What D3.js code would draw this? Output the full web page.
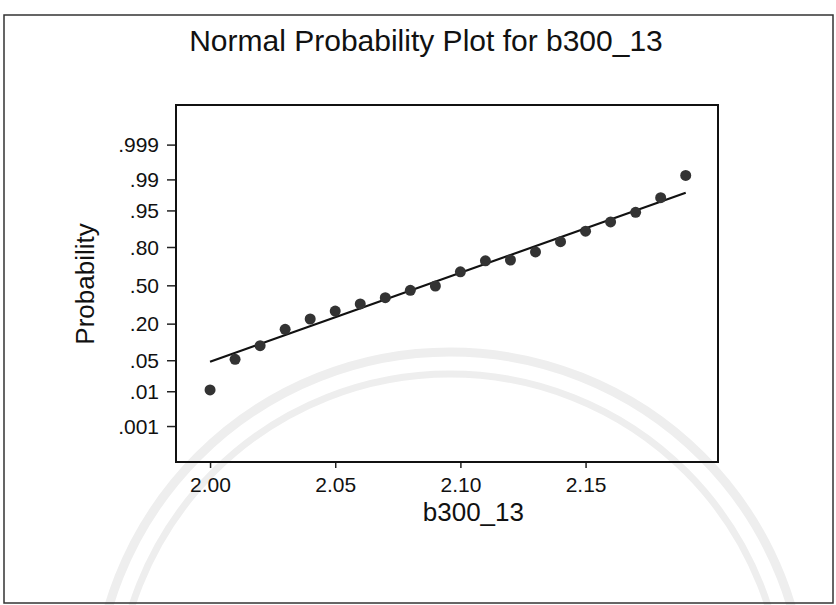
<!DOCTYPE html>
<html>
<head>
<meta charset="utf-8">
<script src="https://cdn.jsdelivr.net/npm/d3@7"></script>
<style>
  html, body { margin: 0; padding: 0; background: #fff; }
  svg { display: block; font-family: "Liberation Sans", Arial, sans-serif; }
</style>
</head>
<body>
<svg id="chart" width="836" height="605"></svg>
<script>
// b300_13 observations and their plotted probability positions
const xValues = [2.00, 2.01, 2.02, 2.03, 2.04, 2.05, 2.06, 2.07, 2.08, 2.09,
                 2.10, 2.11, 2.12, 2.13, 2.14, 2.15, 2.16, 2.17, 2.18, 2.19];
const probValues = [0.0108, 0.052, 0.0924, 0.167, 0.2297, 0.286, 0.341, 0.393, 0.456, 0.494,
                    0.617, 0.705, 0.711, 0.768, 0.831, 0.883, 0.918, 0.9455, 0.9728, 0.9921];

// fitted normal line (end points)
const fitX = [2.00, 2.19];
const fitP = [0.0467, 0.979];

const yTicks = [0.001, 0.01, 0.05, 0.2, 0.5, 0.8, 0.95, 0.99, 0.999];
const yTickLabels = [".001", ".01", ".05", ".20", ".50", ".80", ".95", ".99", ".999"];
const xTicks = [2.00, 2.05, 2.10, 2.15];

// inverse standard normal cdf (Acklam)
function probit(p) {
  const a = [-3.969683028665376e+01, 2.209460984245205e+02, -2.759285104469687e+02,
             1.383577518672690e+02, -3.066479806614716e+01, 2.506628277459239e+00];
  const b = [-5.447609879822406e+01, 1.615858368580409e+02, -1.556989798598866e+02,
             6.680131188771972e+01, -1.328068155288572e+01];
  const c = [-7.784894002430293e-03, -3.223964580411365e-01, -2.400758277161838e+00,
             -2.549732539343734e+00, 4.374664141464968e+00, 2.938163982698783e+00];
  const d = [7.784695709041462e-03, 3.224671290700398e-01, 2.445134137142996e+00,
             3.754408661907416e+00];
  const pl = 0.02425;
  let q, r;
  if (p < pl) {
    q = Math.sqrt(-2 * Math.log(p));
    return (((((c[0]*q+c[1])*q+c[2])*q+c[3])*q+c[4])*q+c[5]) /
           ((((d[0]*q+d[1])*q+d[2])*q+d[3])*q+1);
  }
  if (p > 1 - pl) {
    q = Math.sqrt(-2 * Math.log(1 - p));
    return -(((((c[0]*q+c[1])*q+c[2])*q+c[3])*q+c[4])*q+c[5]) /
            ((((d[0]*q+d[1])*q+d[2])*q+d[3])*q+1);
  }
  q = p - 0.5;
  r = q * q;
  return (((((a[0]*r+a[1])*r+a[2])*r+a[3])*r+a[4])*r+a[5])*q /
         (((((b[0]*r+b[1])*r+b[2])*r+b[3])*r+b[4])*r+1);
}

const points = xValues.map((x, i) => ({ x, p: probValues[i] }));
const fitLine = fitX.map((x, i) => ({ x, p: fitP[i] }));

const svg = d3.select("#chart");
const margin = { top: 105, right: 118, bottom: 143, left: 176 };
const outerWidth = 836;
const outerHeight = 605;
const innerWidth = outerWidth - margin.left - margin.right;
const innerHeight = outerHeight - margin.top - margin.bottom;

// faint watermark arcs from the scanned page
const wm = svg.append("g").attr("fill", "none").attr("stroke", "#eeeeee");
wm.append("circle").attr("cx", 450).attr("cy", 708).attr("r", 356).attr("stroke-width", 9);
wm.append("circle").attr("cx", 450).attr("cy", 708).attr("r", 334).attr("stroke-width", 7);

// outer frame of the scanned figure
svg.append("rect")
  .attr("x", 4).attr("y", 15)
  .attr("width", 829).attr("height", 588)
  .attr("fill", "none")
  .attr("stroke", "#333")
  .attr("stroke-width", 1.5);

const chart = svg.append("g")
  .attr("transform", `translate(${margin.left},${margin.top})`);

const x = d3.scaleLinear()
  .domain([1.9864, 2.2029])
  .range([0, innerWidth]);

// y is linear in normal z-score
const z = d3.scaleLinear()
  .domain([-3.88, 3.96])
  .range([innerHeight, 0]);

const yPos = (p) => z(probit(p));

svg.append("text")
  .attr("x", 426)
  .attr("y", 51)
  .attr("text-anchor", "middle")
  .attr("font-size", 30)
  .attr("fill", "#111")
  .text("Normal Probability Plot for b300_13");

const xAxis = chart.append("g")
  .attr("transform", `translate(0,${innerHeight})`)
  .call(d3.axisBottom(x)
    .tickValues(xTicks)
    .tickFormat(d3.format(".2f"))
    .tickSize(6)
    .tickPadding(9));

const yAxis = chart.append("g")
  .call(d3.axisLeft(z)
    .tickValues(yTicks.map(probit))
    .tickFormat("")
    .tickSize(9));

[xAxis, yAxis].forEach((g) => {
  g.select(".domain").remove();
  g.selectAll(".tick line").attr("stroke", "#222").attr("stroke-width", 1.5);
});
yAxis.selectAll(".tick text").remove();

xAxis.selectAll(".tick text")
  .attr("fill", "#111")
  .style("font-size", "21px");

// probability labels
chart.append("g")
  .selectAll("text")
  .data(yTicks)
  .join("text")
  .attr("x", -17)
  .attr("y", (d) => yPos(d))
  .attr("dy", "0.36em")
  .attr("text-anchor", "end")
  .attr("fill", "#111")
  .style("font-size", "21px")
  .text((d, i) => yTickLabels[i]);

chart.append("rect")
  .attr("width", innerWidth)
  .attr("height", innerHeight)
  .attr("fill", "none")
  .attr("stroke", "#111")
  .attr("stroke-width", 2);

chart.append("path")
  .datum(fitLine)
  .attr("fill", "none")
  .attr("stroke", "#111")
  .attr("stroke-width", 2.2)
  .attr("d", d3.line()
    .x((d) => x(d.x))
    .y((d) => yPos(d.p)));

chart.append("g")
  .selectAll("circle")
  .data(points)
  .join("circle")
  .attr("cx", (d) => x(d.x))
  .attr("cy", (d) => yPos(d.p))
  .attr("r", 5.5)
  .attr("fill", "#333");

svg.append("text")
  .attr("x", margin.left + x(2.10) + 13)
  .attr("y", 521)
  .attr("text-anchor", "middle")
  .attr("font-size", 26)
  .attr("fill", "#111")
  .text("b300_13");

svg.append("text")
  .attr("transform", "rotate(-90)")
  .attr("x", -284)
  .attr("y", 94)
  .attr("text-anchor", "middle")
  .attr("font-size", 26)
  .attr("fill", "#111")
  .text("Probability");
</script>
</body>
</html>
